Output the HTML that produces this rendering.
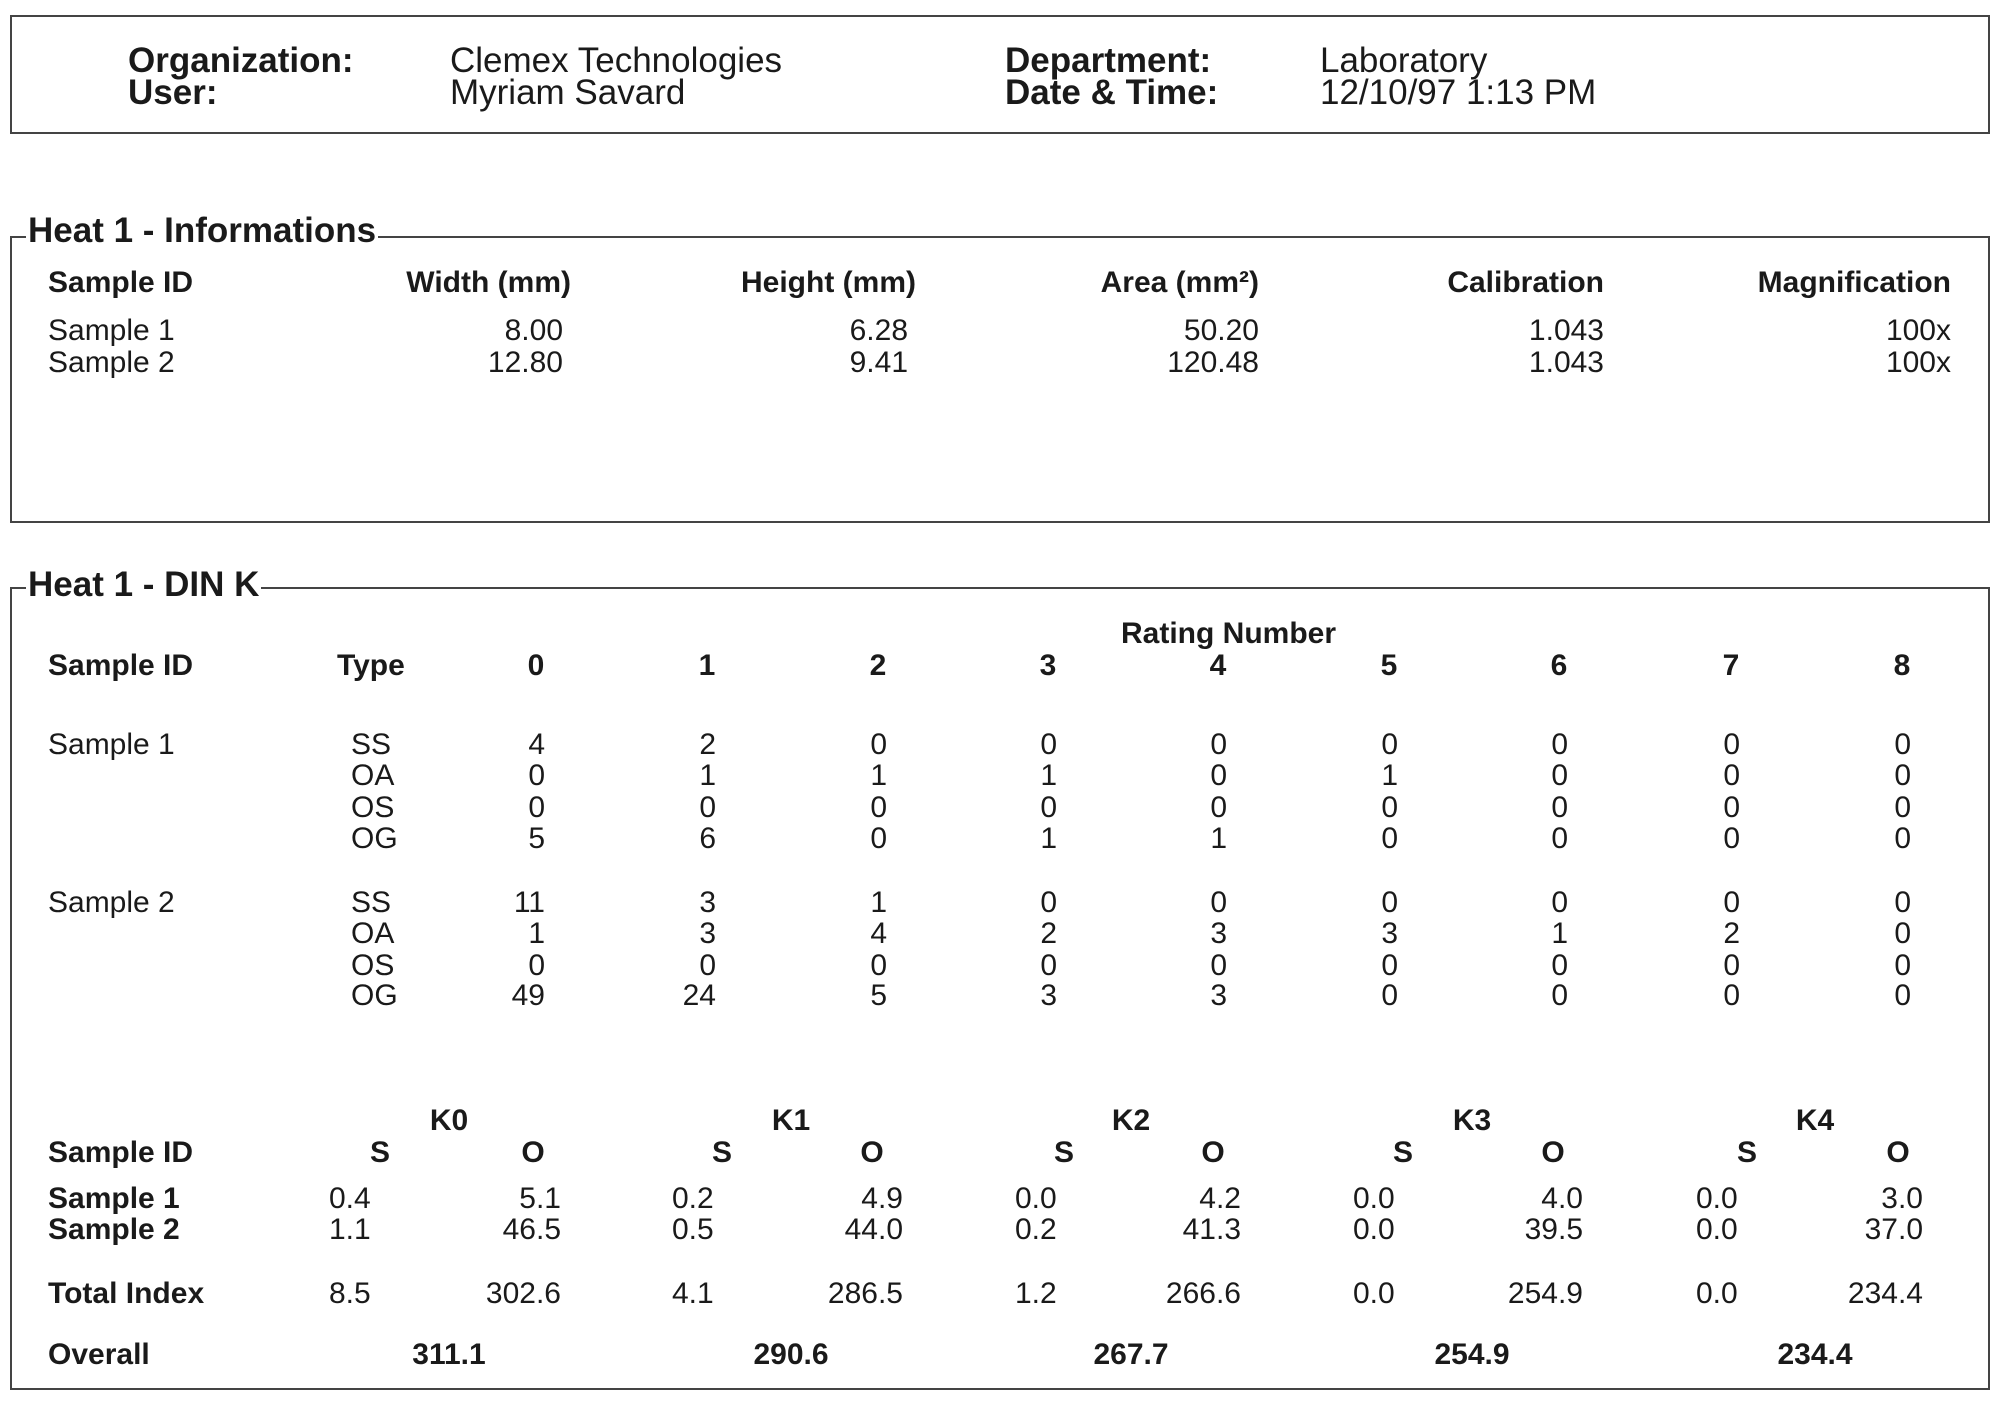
<!DOCTYPE html>
<html><head><meta charset="utf-8"><style>
body{margin:0;background:#fff;}
#p{position:relative;width:2000px;height:1410px;overflow:hidden;background:#fff;font-family:"Liberation Sans",Arial,sans-serif;color:#1a1a1a;}
.box{position:absolute;border:2px solid #444;box-sizing:border-box;}
.r{position:absolute;left:0;width:2000px;height:30px;font-size:30px;line-height:30px;}
.r span{position:absolute;top:0;white-space:nowrap;}
.b{font-weight:bold;}
.R{width:200px;text-align:right;}
.C{width:200px;text-align:center;}
.ttl{position:absolute;font-size:35px;line-height:35px;font-weight:bold;background:#fff;padding:0 2px;white-space:nowrap;}
.hd{position:absolute;font-size:35px;line-height:35px;white-space:nowrap;}
</style></head><body><div id="p">

<div class="box" style="left:10px;top:15px;width:1980px;height:119px;"></div>
<div class="hd b" style="left:128px;top:43px;">Organization:</div>
<div class="hd b" style="left:128px;top:75px;">User:</div>
<div class="hd" style="left:450px;top:43px;">Clemex Technologies</div>
<div class="hd" style="left:450px;top:75px;">Myriam Savard</div>
<div class="hd b" style="left:1005px;top:43px;">Department:</div>
<div class="hd b" style="left:1005px;top:75px;">Date &amp; Time:</div>
<div class="hd" style="left:1320px;top:43px;">Laboratory</div>
<div class="hd" style="left:1320px;top:75px;">12/10/97 1:13 PM</div>

<div class="box" style="left:10px;top:236px;width:1980px;height:287px;"></div>
<div class="ttl" style="left:26px;top:213px;">Heat 1 - Informations</div>
<div class="r b" style="top:268px;"><span style="left:48px">Sample ID</span><span class="R" style="left:371px">Width (mm)</span><span class="R" style="left:716px">Height (mm)</span><span class="R" style="left:1059px">Area (mm²)</span><span class="R" style="left:1404px">Calibration</span><span class="R" style="left:1751px">Magnification</span></div>
<div class="r" style="top:316px;"><span style="left:48px">Sample 1</span><span class="R" style="left:363px">8.00</span><span class="R" style="left:708px">6.28</span><span class="R" style="left:1059px">50.20</span><span class="R" style="left:1404px">1.043</span><span class="R" style="left:1751px">100x</span></div>
<div class="r" style="top:348px;"><span style="left:48px">Sample 2</span><span class="R" style="left:363px">12.80</span><span class="R" style="left:708px">9.41</span><span class="R" style="left:1059px">120.48</span><span class="R" style="left:1404px">1.043</span><span class="R" style="left:1751px">100x</span></div>

<div class="box" style="left:10px;top:587px;width:1980px;height:803px;"></div>
<div class="ttl" style="left:26px;top:567px;">Heat 1 - DIN K</div>
<div class="r b" style="top:619px;"><span class="C" style="left:1121px">Rating Number</span></div>
<div class="r b" style="top:651px;"><span style="left:48px">Sample ID</span><span style="left:337px">Type</span><span class="C" style="left:436px">0</span><span class="C" style="left:607px">1</span><span class="C" style="left:778px">2</span><span class="C" style="left:948px">3</span><span class="C" style="left:1118px">4</span><span class="C" style="left:1289px">5</span><span class="C" style="left:1459px">6</span><span class="C" style="left:1631px">7</span><span class="C" style="left:1802px">8</span></div>

<div class="r" style="top:730px;"><span style="left:48px">Sample 1</span><span style="left:351px">SS</span><span class="R" style="left:345px">4</span><span class="R" style="left:516px">2</span><span class="R" style="left:687px">0</span><span class="R" style="left:857px">0</span><span class="R" style="left:1027px">0</span><span class="R" style="left:1198px">0</span><span class="R" style="left:1368px">0</span><span class="R" style="left:1540px">0</span><span class="R" style="left:1711px">0</span></div>
<div class="r" style="top:761px;"><span style="left:351px">OA</span><span class="R" style="left:345px">0</span><span class="R" style="left:516px">1</span><span class="R" style="left:687px">1</span><span class="R" style="left:857px">1</span><span class="R" style="left:1027px">0</span><span class="R" style="left:1198px">1</span><span class="R" style="left:1368px">0</span><span class="R" style="left:1540px">0</span><span class="R" style="left:1711px">0</span></div>
<div class="r" style="top:793px;"><span style="left:351px">OS</span><span class="R" style="left:345px">0</span><span class="R" style="left:516px">0</span><span class="R" style="left:687px">0</span><span class="R" style="left:857px">0</span><span class="R" style="left:1027px">0</span><span class="R" style="left:1198px">0</span><span class="R" style="left:1368px">0</span><span class="R" style="left:1540px">0</span><span class="R" style="left:1711px">0</span></div>
<div class="r" style="top:824px;"><span style="left:351px">OG</span><span class="R" style="left:345px">5</span><span class="R" style="left:516px">6</span><span class="R" style="left:687px">0</span><span class="R" style="left:857px">1</span><span class="R" style="left:1027px">1</span><span class="R" style="left:1198px">0</span><span class="R" style="left:1368px">0</span><span class="R" style="left:1540px">0</span><span class="R" style="left:1711px">0</span></div>

<div class="r" style="top:888px;"><span style="left:48px">Sample 2</span><span style="left:351px">SS</span><span class="R" style="left:345px">11</span><span class="R" style="left:516px">3</span><span class="R" style="left:687px">1</span><span class="R" style="left:857px">0</span><span class="R" style="left:1027px">0</span><span class="R" style="left:1198px">0</span><span class="R" style="left:1368px">0</span><span class="R" style="left:1540px">0</span><span class="R" style="left:1711px">0</span></div>
<div class="r" style="top:919px;"><span style="left:351px">OA</span><span class="R" style="left:345px">1</span><span class="R" style="left:516px">3</span><span class="R" style="left:687px">4</span><span class="R" style="left:857px">2</span><span class="R" style="left:1027px">3</span><span class="R" style="left:1198px">3</span><span class="R" style="left:1368px">1</span><span class="R" style="left:1540px">2</span><span class="R" style="left:1711px">0</span></div>
<div class="r" style="top:951px;"><span style="left:351px">OS</span><span class="R" style="left:345px">0</span><span class="R" style="left:516px">0</span><span class="R" style="left:687px">0</span><span class="R" style="left:857px">0</span><span class="R" style="left:1027px">0</span><span class="R" style="left:1198px">0</span><span class="R" style="left:1368px">0</span><span class="R" style="left:1540px">0</span><span class="R" style="left:1711px">0</span></div>
<div class="r" style="top:981px;"><span style="left:351px">OG</span><span class="R" style="left:345px">49</span><span class="R" style="left:516px">24</span><span class="R" style="left:687px">5</span><span class="R" style="left:857px">3</span><span class="R" style="left:1027px">3</span><span class="R" style="left:1198px">0</span><span class="R" style="left:1368px">0</span><span class="R" style="left:1540px">0</span><span class="R" style="left:1711px">0</span></div>

<div class="r b" style="top:1106px;"><span class="C" style="left:349px">K0</span><span class="C" style="left:691px">K1</span><span class="C" style="left:1031px">K2</span><span class="C" style="left:1372px">K3</span><span class="C" style="left:1715px">K4</span></div>
<div class="r b" style="top:1138px;"><span style="left:48px">Sample ID</span><span class="C" style="left:280px">S</span><span class="C" style="left:433px">O</span><span class="C" style="left:622px">S</span><span class="C" style="left:772px">O</span><span class="C" style="left:964px">S</span><span class="C" style="left:1113px">O</span><span class="C" style="left:1303px">S</span><span class="C" style="left:1453px">O</span><span class="C" style="left:1647px">S</span><span class="C" style="left:1798px">O</span></div>
<div class="r" style="top:1184px;"><span class="b" style="left:48px">Sample 1</span><span style="left:329px">0.4</span><span class="R" style="left:361px">5.1</span><span style="left:672px">0.2</span><span class="R" style="left:703px">4.9</span><span style="left:1015px">0.0</span><span class="R" style="left:1041px">4.2</span><span style="left:1353px">0.0</span><span class="R" style="left:1383px">4.0</span><span style="left:1696px">0.0</span><span class="R" style="left:1723px">3.0</span></div>
<div class="r" style="top:1215px;"><span class="b" style="left:48px">Sample 2</span><span style="left:329px">1.1</span><span class="R" style="left:361px">46.5</span><span style="left:672px">0.5</span><span class="R" style="left:703px">44.0</span><span style="left:1015px">0.2</span><span class="R" style="left:1041px">41.3</span><span style="left:1353px">0.0</span><span class="R" style="left:1383px">39.5</span><span style="left:1696px">0.0</span><span class="R" style="left:1723px">37.0</span></div>
<div class="r" style="top:1279px;"><span class="b" style="left:48px">Total Index</span><span style="left:329px">8.5</span><span class="R" style="left:361px">302.6</span><span style="left:672px">4.1</span><span class="R" style="left:703px">286.5</span><span style="left:1015px">1.2</span><span class="R" style="left:1041px">266.6</span><span style="left:1353px">0.0</span><span class="R" style="left:1383px">254.9</span><span style="left:1696px">0.0</span><span class="R" style="left:1723px">234.4</span></div>
<div class="r b" style="top:1340px;"><span style="left:48px">Overall</span><span class="C" style="left:349px">311.1</span><span class="C" style="left:691px">290.6</span><span class="C" style="left:1031px">267.7</span><span class="C" style="left:1372px">254.9</span><span class="C" style="left:1715px">234.4</span></div>

</div></body></html>
